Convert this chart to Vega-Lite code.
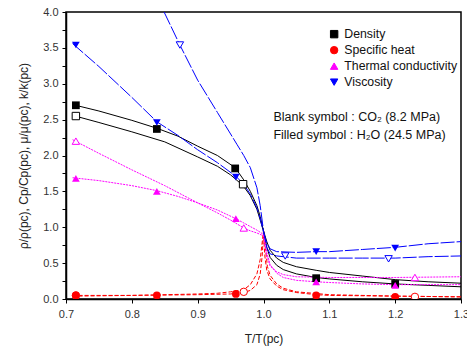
{
  "$schema": "https://vega.github.io/schema/vega-lite/v6.json",
  "width": 395,
  "height": 287,
  "autosize": {"type": "none"},
  "padding": {"left": 66, "top": 12, "right": 6, "bottom": 62},
  "datasets": {
    "curves": [
      {"p":"Density","f":"H2O","x":0.71,"y":2.71},{"p":"Density","f":"H2O","x":0.75,"y":2.62},{"p":"Density","f":"H2O","x":0.8,"y":2.49},{"p":"Density","f":"H2O","x":0.838,"y":2.38},{"p":"Density","f":"H2O","x":0.87,"y":2.27},{"p":"Density","f":"H2O","x":0.9,"y":2.13},{"p":"Density","f":"H2O","x":0.93,"y":2.0},{"p":"Density","f":"H2O","x":0.957,"y":1.83},{"p":"Density","f":"H2O","x":0.97,"y":1.66},{"p":"Density","f":"H2O","x":0.98,"y":1.5},{"p":"Density","f":"H2O","x":0.99,"y":1.3},{"p":"Density","f":"H2O","x":0.995,"y":1.15},{"p":"Density","f":"H2O","x":1.0,"y":0.95},{"p":"Density","f":"H2O","x":1.005,"y":0.72},{"p":"Density","f":"H2O","x":1.01,"y":0.58},{"p":"Density","f":"H2O","x":1.02,"y":0.47},{"p":"Density","f":"H2O","x":1.03,"y":0.41},{"p":"Density","f":"H2O","x":1.05,"y":0.35},{"p":"Density","f":"H2O","x":1.08,"y":0.3},{"p":"Density","f":"H2O","x":1.1,"y":0.28},{"p":"Density","f":"H2O","x":1.15,"y":0.24},{"p":"Density","f":"H2O","x":1.2,"y":0.21},{"p":"Density","f":"H2O","x":1.25,"y":0.19},{"p":"Density","f":"H2O","x":1.3,"y":0.17},
      {"p":"Density","f":"CO2","x":0.71,"y":2.56},{"p":"Density","f":"CO2","x":0.75,"y":2.46},{"p":"Density","f":"CO2","x":0.8,"y":2.33},{"p":"Density","f":"CO2","x":0.85,"y":2.19},{"p":"Density","f":"CO2","x":0.9,"y":1.98},{"p":"Density","f":"CO2","x":0.93,"y":1.85},{"p":"Density","f":"CO2","x":0.95,"y":1.73},{"p":"Density","f":"CO2","x":0.969,"y":1.58},{"p":"Density","f":"CO2","x":0.98,"y":1.44},{"p":"Density","f":"CO2","x":0.99,"y":1.25},{"p":"Density","f":"CO2","x":0.995,"y":1.1},{"p":"Density","f":"CO2","x":1.0,"y":0.95},{"p":"Density","f":"CO2","x":1.005,"y":0.8},{"p":"Density","f":"CO2","x":1.01,"y":0.68},{"p":"Density","f":"CO2","x":1.02,"y":0.57},{"p":"Density","f":"CO2","x":1.03,"y":0.51},{"p":"Density","f":"CO2","x":1.05,"y":0.45},{"p":"Density","f":"CO2","x":1.08,"y":0.4},{"p":"Density","f":"CO2","x":1.1,"y":0.37},{"p":"Density","f":"CO2","x":1.15,"y":0.32},{"p":"Density","f":"CO2","x":1.2,"y":0.27},{"p":"Density","f":"CO2","x":1.25,"y":0.24},{"p":"Density","f":"CO2","x":1.3,"y":0.22},
      {"p":"Specific heat","f":"H2O","x":0.71,"y":0.05},{"p":"Specific heat","f":"H2O","x":0.8,"y":0.05},{"p":"Specific heat","f":"H2O","x":0.9,"y":0.06},{"p":"Specific heat","f":"H2O","x":0.95,"y":0.07},{"p":"Specific heat","f":"H2O","x":0.97,"y":0.09},{"p":"Specific heat","f":"H2O","x":0.98,"y":0.12},{"p":"Specific heat","f":"H2O","x":0.99,"y":0.2},{"p":"Specific heat","f":"H2O","x":0.995,"y":0.35},{"p":"Specific heat","f":"H2O","x":0.998,"y":0.6},{"p":"Specific heat","f":"H2O","x":1.0,"y":0.9},{"p":"Specific heat","f":"H2O","x":1.002,"y":0.6},{"p":"Specific heat","f":"H2O","x":1.005,"y":0.4},{"p":"Specific heat","f":"H2O","x":1.01,"y":0.28},{"p":"Specific heat","f":"H2O","x":1.02,"y":0.18},{"p":"Specific heat","f":"H2O","x":1.03,"y":0.13},{"p":"Specific heat","f":"H2O","x":1.05,"y":0.09},{"p":"Specific heat","f":"H2O","x":1.08,"y":0.06},{"p":"Specific heat","f":"H2O","x":1.1,"y":0.05},{"p":"Specific heat","f":"H2O","x":1.2,"y":0.04},{"p":"Specific heat","f":"H2O","x":1.3,"y":0.03},
      {"p":"Specific heat","f":"CO2","x":0.71,"y":0.04},{"p":"Specific heat","f":"CO2","x":0.8,"y":0.05},{"p":"Specific heat","f":"CO2","x":0.9,"y":0.07},{"p":"Specific heat","f":"CO2","x":0.93,"y":0.08},{"p":"Specific heat","f":"CO2","x":0.95,"y":0.1},{"p":"Specific heat","f":"CO2","x":0.97,"y":0.13},{"p":"Specific heat","f":"CO2","x":0.98,"y":0.2},{"p":"Specific heat","f":"CO2","x":0.99,"y":0.35},{"p":"Specific heat","f":"CO2","x":0.995,"y":0.55},{"p":"Specific heat","f":"CO2","x":1.0,"y":0.95},{"p":"Specific heat","f":"CO2","x":1.003,"y":0.7},{"p":"Specific heat","f":"CO2","x":1.006,"y":0.45},{"p":"Specific heat","f":"CO2","x":1.01,"y":0.33},{"p":"Specific heat","f":"CO2","x":1.02,"y":0.21},{"p":"Specific heat","f":"CO2","x":1.03,"y":0.15},{"p":"Specific heat","f":"CO2","x":1.05,"y":0.1},{"p":"Specific heat","f":"CO2","x":1.1,"y":0.06},{"p":"Specific heat","f":"CO2","x":1.2,"y":0.04},{"p":"Specific heat","f":"CO2","x":1.3,"y":0.03},
      {"p":"Thermal conductivity","f":"H2O","x":0.71,"y":1.69},{"p":"Thermal conductivity","f":"H2O","x":0.75,"y":1.65},{"p":"Thermal conductivity","f":"H2O","x":0.8,"y":1.58},{"p":"Thermal conductivity","f":"H2O","x":0.838,"y":1.51},{"p":"Thermal conductivity","f":"H2O","x":0.87,"y":1.43},{"p":"Thermal conductivity","f":"H2O","x":0.9,"y":1.34},{"p":"Thermal conductivity","f":"H2O","x":0.93,"y":1.24},{"p":"Thermal conductivity","f":"H2O","x":0.958,"y":1.12},{"p":"Thermal conductivity","f":"H2O","x":0.97,"y":1.06},{"p":"Thermal conductivity","f":"H2O","x":0.98,"y":1.01},{"p":"Thermal conductivity","f":"H2O","x":0.99,"y":0.96},{"p":"Thermal conductivity","f":"H2O","x":1.0,"y":0.9},{"p":"Thermal conductivity","f":"H2O","x":1.005,"y":0.65},{"p":"Thermal conductivity","f":"H2O","x":1.01,"y":0.48},{"p":"Thermal conductivity","f":"H2O","x":1.02,"y":0.36},{"p":"Thermal conductivity","f":"H2O","x":1.03,"y":0.3},{"p":"Thermal conductivity","f":"H2O","x":1.05,"y":0.26},{"p":"Thermal conductivity","f":"H2O","x":1.08,"y":0.24},{"p":"Thermal conductivity","f":"H2O","x":1.1,"y":0.23},{"p":"Thermal conductivity","f":"H2O","x":1.15,"y":0.21},{"p":"Thermal conductivity","f":"H2O","x":1.2,"y":0.2},{"p":"Thermal conductivity","f":"H2O","x":1.25,"y":0.2},{"p":"Thermal conductivity","f":"H2O","x":1.3,"y":0.2},
      {"p":"Thermal conductivity","f":"CO2","x":0.71,"y":2.22},{"p":"Thermal conductivity","f":"CO2","x":0.75,"y":2.03},{"p":"Thermal conductivity","f":"CO2","x":0.8,"y":1.8},{"p":"Thermal conductivity","f":"CO2","x":0.85,"y":1.58},{"p":"Thermal conductivity","f":"CO2","x":0.9,"y":1.34},{"p":"Thermal conductivity","f":"CO2","x":0.93,"y":1.2},{"p":"Thermal conductivity","f":"CO2","x":0.95,"y":1.1},{"p":"Thermal conductivity","f":"CO2","x":0.97,"y":0.99},{"p":"Thermal conductivity","f":"CO2","x":0.98,"y":0.95},{"p":"Thermal conductivity","f":"CO2","x":0.99,"y":0.92},{"p":"Thermal conductivity","f":"CO2","x":1.0,"y":0.88},{"p":"Thermal conductivity","f":"CO2","x":1.005,"y":0.6},{"p":"Thermal conductivity","f":"CO2","x":1.01,"y":0.46},{"p":"Thermal conductivity","f":"CO2","x":1.02,"y":0.38},{"p":"Thermal conductivity","f":"CO2","x":1.03,"y":0.34},{"p":"Thermal conductivity","f":"CO2","x":1.05,"y":0.31},{"p":"Thermal conductivity","f":"CO2","x":1.1,"y":0.3},{"p":"Thermal conductivity","f":"CO2","x":1.2,"y":0.3},{"p":"Thermal conductivity","f":"CO2","x":1.3,"y":0.31},
      {"p":"Viscosity","f":"H2O","x":0.71,"y":3.56},{"p":"Viscosity","f":"H2O","x":0.75,"y":3.24},{"p":"Viscosity","f":"H2O","x":0.8,"y":2.81},{"p":"Viscosity","f":"H2O","x":0.838,"y":2.47},{"p":"Viscosity","f":"H2O","x":0.87,"y":2.28},{"p":"Viscosity","f":"H2O","x":0.9,"y":2.08},{"p":"Viscosity","f":"H2O","x":0.93,"y":1.9},{"p":"Viscosity","f":"H2O","x":0.958,"y":1.71},{"p":"Viscosity","f":"H2O","x":0.97,"y":1.6},{"p":"Viscosity","f":"H2O","x":0.98,"y":1.46},{"p":"Viscosity","f":"H2O","x":0.99,"y":1.27},{"p":"Viscosity","f":"H2O","x":0.995,"y":1.12},{"p":"Viscosity","f":"H2O","x":1.0,"y":0.93},{"p":"Viscosity","f":"H2O","x":1.005,"y":0.78},{"p":"Viscosity","f":"H2O","x":1.01,"y":0.7},{"p":"Viscosity","f":"H2O","x":1.02,"y":0.66},{"p":"Viscosity","f":"H2O","x":1.05,"y":0.65},{"p":"Viscosity","f":"H2O","x":1.08,"y":0.66},{"p":"Viscosity","f":"H2O","x":1.1,"y":0.66},{"p":"Viscosity","f":"H2O","x":1.15,"y":0.69},{"p":"Viscosity","f":"H2O","x":1.2,"y":0.72},{"p":"Viscosity","f":"H2O","x":1.25,"y":0.77},{"p":"Viscosity","f":"H2O","x":1.3,"y":0.8},
      {"p":"Viscosity","f":"CO2","x":0.849,"y":4.0},{"p":"Viscosity","f":"CO2","x":0.873,"y":3.54},{"p":"Viscosity","f":"CO2","x":0.9,"y":3.05},{"p":"Viscosity","f":"CO2","x":0.93,"y":2.6},{"p":"Viscosity","f":"CO2","x":0.95,"y":2.3},{"p":"Viscosity","f":"CO2","x":0.96,"y":2.15},{"p":"Viscosity","f":"CO2","x":0.97,"y":2.0},{"p":"Viscosity","f":"CO2","x":0.98,"y":1.83},{"p":"Viscosity","f":"CO2","x":0.99,"y":1.55},{"p":"Viscosity","f":"CO2","x":0.995,"y":1.3},{"p":"Viscosity","f":"CO2","x":1.0,"y":0.95},{"p":"Viscosity","f":"CO2","x":1.005,"y":0.72},{"p":"Viscosity","f":"CO2","x":1.01,"y":0.63},{"p":"Viscosity","f":"CO2","x":1.02,"y":0.6},{"p":"Viscosity","f":"CO2","x":1.03,"y":0.59},{"p":"Viscosity","f":"CO2","x":1.05,"y":0.57},{"p":"Viscosity","f":"CO2","x":1.1,"y":0.57},{"p":"Viscosity","f":"CO2","x":1.15,"y":0.57},{"p":"Viscosity","f":"CO2","x":1.2,"y":0.57},{"p":"Viscosity","f":"CO2","x":1.25,"y":0.59},{"p":"Viscosity","f":"CO2","x":1.3,"y":0.6}
    ],
    "markers": [
      {"p":"Density","f":"H2O","x":0.715,"y":2.7},{"p":"Density","f":"H2O","x":0.838,"y":2.37},{"p":"Density","f":"H2O","x":0.957,"y":1.82},{"p":"Density","f":"H2O","x":1.08,"y":0.29},{"p":"Density","f":"H2O","x":1.2,"y":0.21},
      {"p":"Specific heat","f":"H2O","x":0.715,"y":0.05},{"p":"Specific heat","f":"H2O","x":0.838,"y":0.05},{"p":"Specific heat","f":"H2O","x":0.958,"y":0.07},{"p":"Specific heat","f":"H2O","x":1.08,"y":0.05},{"p":"Specific heat","f":"H2O","x":1.2,"y":0.03},
      {"p":"Thermal conductivity","f":"H2O","x":0.715,"y":1.68},{"p":"Thermal conductivity","f":"H2O","x":0.838,"y":1.5},{"p":"Thermal conductivity","f":"H2O","x":0.958,"y":1.12},{"p":"Thermal conductivity","f":"H2O","x":1.08,"y":0.24},{"p":"Thermal conductivity","f":"H2O","x":1.2,"y":0.19},
      {"p":"Viscosity","f":"H2O","x":0.715,"y":3.54},{"p":"Viscosity","f":"H2O","x":0.838,"y":2.46},{"p":"Viscosity","f":"H2O","x":0.958,"y":1.7},{"p":"Viscosity","f":"H2O","x":1.08,"y":0.66},{"p":"Viscosity","f":"H2O","x":1.2,"y":0.71},
      {"p":"Density","f":"CO2","x":0.715,"y":2.55},{"p":"Density","f":"CO2","x":0.969,"y":1.6},
      {"p":"Specific heat","f":"CO2","x":0.715,"y":0.05},{"p":"Specific heat","f":"CO2","x":0.97,"y":0.1},{"p":"Specific heat","f":"CO2","x":1.23,"y":0.03},
      {"p":"Thermal conductivity","f":"CO2","x":0.715,"y":2.2},{"p":"Thermal conductivity","f":"CO2","x":0.97,"y":0.99},{"p":"Thermal conductivity","f":"CO2","x":1.23,"y":0.3},
      {"p":"Viscosity","f":"CO2","x":0.873,"y":3.54},{"p":"Viscosity","f":"CO2","x":1.033,"y":0.6},{"p":"Viscosity","f":"CO2","x":1.19,"y":0.56}
    ],
    "notes": [
      {"label":"Blank symbol : CO₂ (8.2 MPa)","x":1.015,"y":2.53},
      {"label":"Filled symbol : H₂O (24.5 MPa)","x":1.015,"y":2.28}
    ]
  },
  "resolve": {"axis": {"y": "independent"}},
  "layer": [
    {
      "data": {"name": "curves"},
      "transform": [{"filter": "datum.p == 'Density'"}],
      "mark": {"type": "line", "strokeWidth": 1, "clip": true},
      "encoding": {
        "x": {"field": "x", "type": "quantitative",
          "scale": {"domain": [0.7, 1.3], "nice": false, "zero": false},
          "axis": {"title": "T/T(pc)", "values": [0.7,0.75,0.8,0.85,0.9,0.95,1.0,1.05,1.1,1.15,1.2,1.25,1.3], "labelOverlap": false,
            "labelExpr": "abs(datum.value*10 - round(datum.value*10)) < 0.01 ? format(datum.value, '.1f') : ''"}},
        "y": {"field": "y", "type": "quantitative",
          "scale": {"domain": [0, 4], "nice": false},
          "axis": {"title": "ρ/ρ(pc), Cp/Cp(pc), μ/μ(pc), k/k(pc)", "values": [0,0.5,1,1.5,2,2.5,3,3.5,4], "labelOverlap": false, "format": ".1f"}},
        "color": {"field": "p", "type": "nominal", "title": null,
          "scale": {"domain": ["Density","Specific heat","Thermal conductivity","Viscosity"], "range": ["#000000","#ff0000","#ff00ff","#0000ff"]},
          "legend": {"orient": "none", "legendX": 258, "legendY": 12}},
        "detail": {"field": "f"}
      }
    },
    {
      "data": {"name": "curves"},
      "transform": [{"filter": "datum.p == 'Specific heat'"}],
      "mark": {"type": "line", "strokeWidth": 1, "strokeDash": [4, 2], "clip": true},
      "encoding": {
        "x": {"field": "x", "type": "quantitative"},
        "y": {"field": "y", "type": "quantitative", "axis": null},
        "color": {"field": "p", "type": "nominal", "title": null},
        "detail": {"field": "f"}
      }
    },
    {
      "data": {"name": "curves"},
      "transform": [{"filter": "datum.p == 'Thermal conductivity'"}],
      "mark": {"type": "line", "strokeWidth": 1, "strokeDash": [2, 1], "clip": true},
      "encoding": {
        "x": {"field": "x", "type": "quantitative"},
        "y": {"field": "y", "type": "quantitative", "axis": null},
        "color": {"field": "p", "type": "nominal", "title": null},
        "detail": {"field": "f"}
      }
    },
    {
      "data": {"name": "curves"},
      "transform": [{"filter": "datum.p == 'Viscosity'"}],
      "mark": {"type": "line", "strokeWidth": 1, "strokeDash": [14, 2], "clip": true},
      "encoding": {
        "x": {"field": "x", "type": "quantitative"},
        "y": {"field": "y", "type": "quantitative", "axis": null},
        "color": {"field": "p", "type": "nominal", "title": null},
        "detail": {"field": "f"}
      }
    },
    {
      "data": {"name": "markers"},
      "transform": [{"filter": "datum.f == 'CO2'"}],
      "mark": {"type": "point", "filled": false, "fill": "white", "fillOpacity": 1, "strokeWidth": 1, "size": 55, "opacity": 1, "clip": true},
      "encoding": {
        "x": {"field": "x", "type": "quantitative"},
        "y": {"field": "y", "type": "quantitative", "axis": null},
        "color": {"field": "p", "type": "nominal", "title": null},
        "shape": {"field": "p", "type": "nominal", "title": null,
          "scale": {"domain": ["Density","Specific heat","Thermal conductivity","Viscosity"], "range": ["square","circle","triangle-up","triangle-down"]}}
      }
    },
    {
      "data": {"name": "markers"},
      "transform": [{"filter": "datum.f == 'H2O'"}],
      "mark": {"type": "point", "filled": true, "size": 60, "opacity": 1, "clip": true},
      "encoding": {
        "x": {"field": "x", "type": "quantitative"},
        "y": {"field": "y", "type": "quantitative", "axis": null},
        "color": {"field": "p", "type": "nominal", "title": null},
        "shape": {"field": "p", "type": "nominal", "title": null}
      }
    },
    {
      "data": {"name": "notes"},
      "mark": {"type": "text", "align": "left", "baseline": "middle", "fontSize": 12.5, "color": "#111"},
      "encoding": {
        "x": {"field": "x", "type": "quantitative"},
        "y": {"field": "y", "type": "quantitative",
          "axis": {"orient": "left", "values": [0.25,0.75,1.25,1.75,2.25,2.75,3.25,3.75], "labels": false, "domain": false, "title": null, "ticks": true}},
        "text": {"field": "label"}
      }
    }
  ],
  "config": {
    "font": "Liberation Sans",
    "view": {"stroke": "#000", "strokeWidth": 1.5},
    "axis": {
      "grid": false,
      "domainColor": "#000", "domainWidth": 1.5,
      "tickColor": "#000", "tickSize": 4, "tickWidth": 1,
      "labelFontSize": 11, "labelColor": "#333", "labelFont": "Liberation Sans",
      "titleFontSize": 12, "titleFontWeight": "normal", "titleColor": "#222", "titleFont": "Liberation Sans"
    },
    "axisX": {"labelPadding": 5, "titlePadding": 14, "labelFlush": false},
    "axisY": {"labelPadding": 4, "titlePadding": 12, "labelFlush": false},
    "legend": {
      "labelFontSize": 12.3, "labelColor": "#111",
      "symbolSize": 55, "rowPadding": 3, "symbolStrokeWidth": 1, "labelFont": "Liberation Sans", "padding": 4
    }
  }
}
